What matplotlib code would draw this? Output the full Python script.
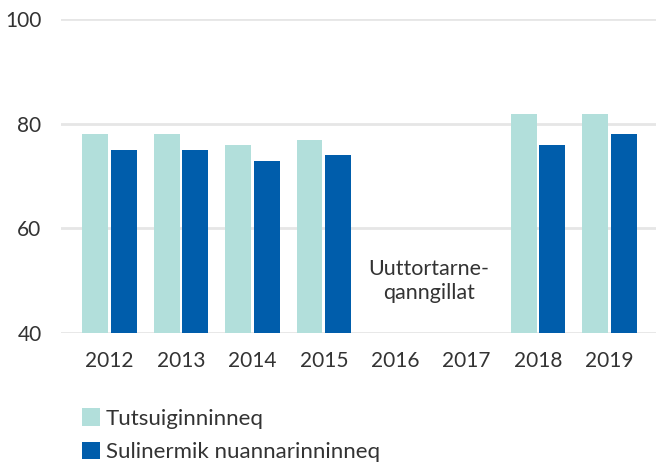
import matplotlib.pyplot as plt
import numpy as np

years = ['2012', '2013', '2014', '2015', '2016', '2017', '2018', '2019']
tutsuiginninneq = [78, 78, 76, 77, np.nan, np.nan, 82, 82]
sulinermik = [75, 75, 73, 74, np.nan, np.nan, 76, 78]
labels = ['Tutsuiginninneq', 'Sulinermik nuannarinninneq']
note = 'Uuttortarne-\nqanngillat'

plt.rcParams['font.family'] = ['Lato', 'DejaVu Sans']
txt = '#333333'

fig = plt.figure(figsize=(6.58, 4.63), dpi=100)
ax = fig.add_axes([0.0927, 0.2808, 0.904, 0.6771])

x = np.arange(len(years))
w = 0.36
b1 = ax.bar(x - 0.2, np.array(tutsuiginninneq) - 40, w, bottom=40,
            color='#b2dfdb', label=labels[0], zorder=3)
b2 = ax.bar(x + 0.2, np.array(sulinermik) - 40, w, bottom=40,
            color='#005dab', label=labels[1], zorder=3)

ax.text(4.47, 50, note, ha='center', va='center', fontsize=15.5, color=txt,
        linespacing=1.25)

ax.set_ylim(40, 100)
ax.set_xlim(-0.68, 7.65)
ax.set_yticks([40, 60, 80, 100])
ax.set_xticks(x)
ax.set_xticklabels(years)
ax.grid(axis='y', color='#e6e6e6', linewidth=2, zorder=0)
ax.tick_params(length=0, labelsize=15, labelcolor=txt)
ax.tick_params(axis='x', pad=13)
ax.tick_params(axis='y', pad=14)
for s in ax.spines.values():
    s.set_visible(False)

fig.legend(handles=[b1, b2], loc='upper left', bbox_to_anchor=(0.124, 0.118),
           frameon=False, fontsize=16, handlelength=0.82, handleheight=0.82,
           handletextpad=0.28, labelspacing=0.58, borderpad=0, borderaxespad=0,
           labelcolor=txt)

fig.savefig('out.png', dpi=100)
